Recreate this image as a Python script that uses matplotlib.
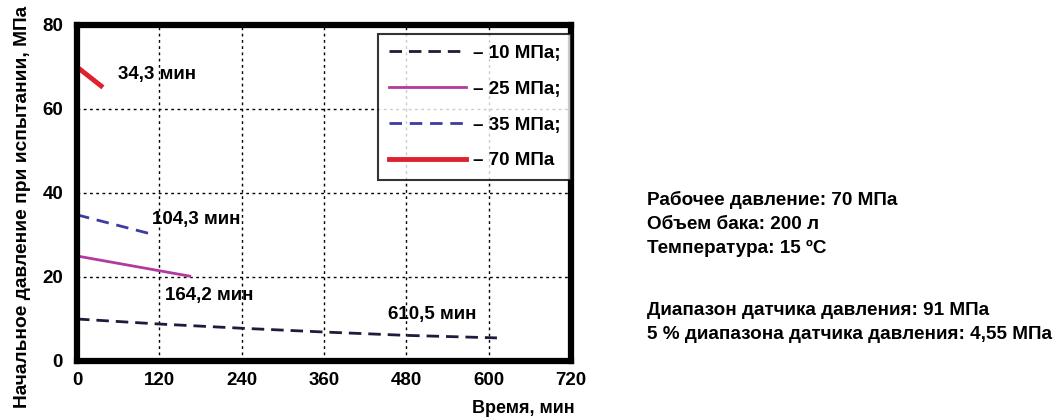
import numpy as np
import matplotlib.pyplot as plt

plt.rcParams['font.family'] = ['Liberation Sans', 'DejaVu Sans']
plt.rcParams['font.weight'] = 'bold'
plt.rcParams['axes.labelweight'] = 'bold'

# данные
t10 = [0, 120, 240, 360, 480, 612]
p10 = [10.0, 8.8, 7.8, 6.9, 6.1, 5.5]
t25 = [0, 164.2]
p25 = [25.0, 20.2]
t35 = [0, 104.3]
p35 = [34.8, 30.4]
t70 = [0, 35]
p70 = [70.0, 65.5]

labels = ["– 10 МПа;", "– 25 МПа;", "– 35 МПа;", "– 70 МПа"]
notes = ["610,5 мин", "164,2 мин", "104,3 мин", "34,3 мин"]
note_xy = [(453, 11.0), (128, 15.7), (109, 33.6), (60, 68.1)]

info1 = ["Рабочее давление: 70 МПа",
         "Объем бака: 200 л",
         "Температура: 15 ºС"]
info2 = ["Диапазон датчика давления: 91 МПа",
         "5 % диапазона датчика давления: 4,55 МПа"]

fig = plt.figure(figsize=(10.62, 4.17), dpi=100)
ax = fig.add_axes([0.0725, 0.1343, 0.4652, 0.8058])

ax.plot(t10, p10, color='#1c1c3c', lw=2, dashes=(4.5, 2.5), label=labels[0])
ax.plot(t25, p25, color='#b03a9e', lw=2, label=labels[1])
ax.plot(t35, p35, color='#3c3ca0', lw=2, dashes=(4.5, 2.8), label=labels[2])
ax.plot(t70, p70, color='#e0202e', lw=3.5, label=labels[3])

for s, (x, y) in zip(notes, note_xy):
    ax.text(x, y, s, fontsize=13.5, va='center', ha='left')

ax.set_xlim(0, 720)
ax.set_ylim(0, 80)
ax.set_xticks(np.arange(0, 721, 120))
ax.set_yticks(np.arange(0, 81, 20))
ax.tick_params(length=0, labelsize=13.5)
ax.tick_params(axis='x', pad=8)
ax.tick_params(axis='y', pad=10)
ax.grid(True, color='black', ls=(0, (2, 2.5)), lw=1)
for sp in ax.spines.values():
    sp.set_linewidth(4.5)

ax.set_ylabel("Начальное давление при испытании, МПа", fontsize=13.8)
ax.yaxis.set_label_coords(-0.093, 0.458)
ax.set_xlabel("Время, мин", fontsize=13)
ax.xaxis.set_label_coords(1.008, -0.14)
ax.xaxis.label.set_horizontalalignment('right')
ax.xaxis.label.set_verticalalignment('center')

leg = ax.legend(loc='upper right', fontsize=13.5, handlelength=4.1, handletextpad=0.4,
                frameon=True, fancybox=False, edgecolor='black', borderpad=0.55,
                labelspacing=1.0, borderaxespad=0, bbox_to_anchor=(1.0, 0.972))
leg.get_frame().set_linewidth(1.5)

fig.text(0.609, 0.541, "\n".join(info1), fontsize=13.6, va='top', ha='left',
         linespacing=1.53)
fig.text(0.609, 0.275, "\n".join(info2), fontsize=13.6, va='top', ha='left',
         linespacing=1.53)

fig.savefig("out.png", dpi=100)
